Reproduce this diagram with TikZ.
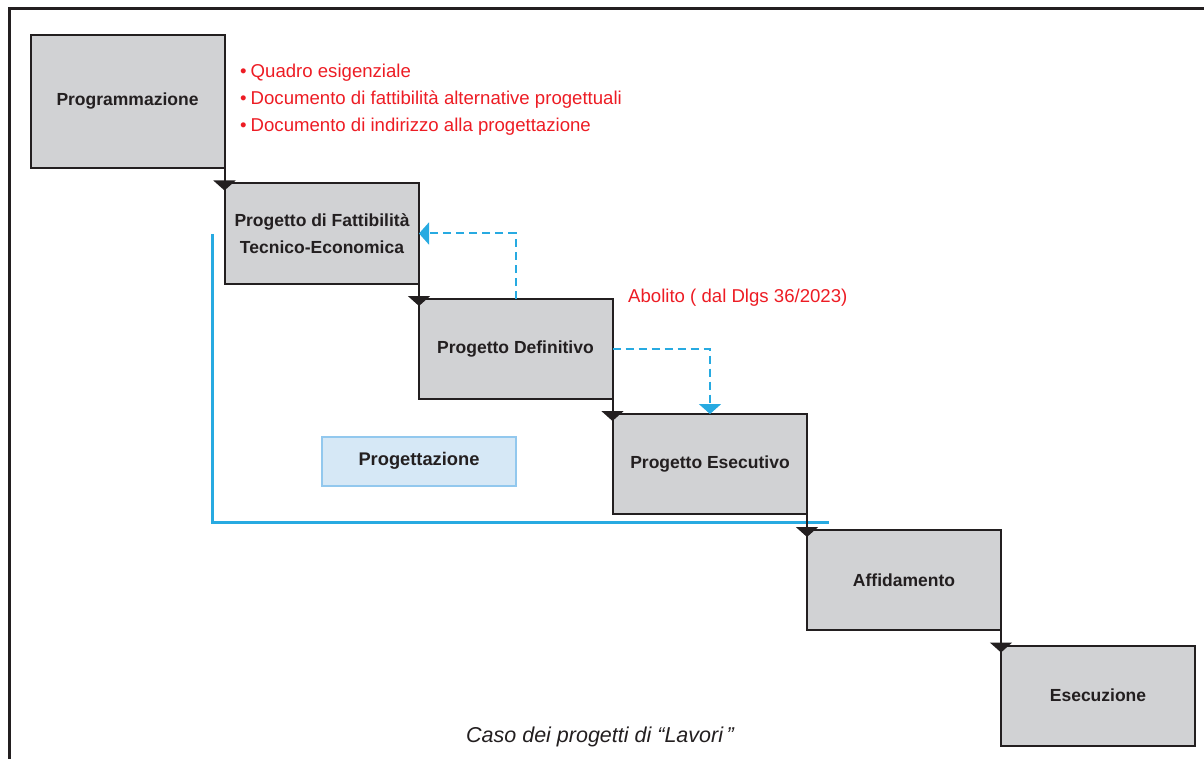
\documentclass[tikz,border=0pt]{standalone}
\usepackage{fontspec}
\setmainfont{Liberation Sans}
\usetikzlibrary{arrows.meta}
\definecolor{boxgray}{RGB}{209,210,212}
\definecolor{boxline}{RGB}{35,31,32}
\definecolor{redtxt}{RGB}{237,28,36}
\definecolor{cyanline}{RGB}{39,170,225}
\definecolor{lightblue}{RGB}{214,232,246}
\definecolor{blueborder}{RGB}{146,200,238}
\begin{document}
\begin{tikzpicture}[x=1pt, y=-1pt,
  phase/.style={draw=boxline, fill=boxgray, line width=2pt, minimum width=194pt, minimum height=100pt,
    inner sep=0pt, outer sep=0pt, align=center, text=boxline, font=\fontsize{17.5}{27}\selectfont\bfseries},
  flow/.style={draw=boxline, line width=2pt, -{Triangle[width=22pt,length=10pt]}, shorten >=-7pt},
  skip/.style={draw=cyanline, line width=2pt, dash pattern=on 8pt off 5pt, -{Triangle[width=22pt,length=10pt]}},
  note/.style={text=redtxt, anchor=west, align=left, inner sep=0pt, font=\fontsize{18.6}{27}\selectfont}]
\useasboundingbox (0,0) rectangle (1204,759);
\draw [boxline, line width=3pt] (9,759) -- (9,9) -- (1204,9);

\node [phase, minimum height=133pt] (prog) at (127.5,101.5) {Programmazione};
\node [phase] (fatt) at (322,233.5) {Progetto di Fattibilit\`a\\Tecnico-Economica};
\node [phase] (def) at (515.5,349) {Progetto Definitivo};
\node [phase] (esec) at (710,464) {Progetto Esecutivo};
\node [phase] (aff) at (904,580) {Affidamento};
\node [phase] (exe) at (1098,695.5) {Esecuzione};

\node [note] (docs) at (240,100) {\textbullet\hspace{4pt}Quadro esigenziale\\
  \textbullet\hspace{4pt}Documento di fattibilit\`a alternative progettuali\\
  \textbullet\hspace{4pt}Documento di indirizzo alla progettazione};
\node [note] (abol) at (628,298) {Abolito ( dal Dlgs 36/2023)};

\draw [cyanline, line width=3pt] (212,234) -- (212,522) -- (829,522);
\node [draw=blueborder, fill=lightblue, line width=2pt, minimum width=194pt, minimum height=49pt,
  text=boxline, font=\fontsize{18.3}{22}\selectfont\bfseries] (progt) at (419,461) {Progettazione};

\draw [flow] (prog.south east) -- (prog.south east |- fatt.north);
\draw [flow] (fatt.south east) -- (fatt.south east |- def.north);
\draw [flow] (def.south east) -- (def.south east |- esec.north);
\draw [flow] (esec.south east) -- (esec.south east |- aff.north);
\draw [flow] (aff.south east) -- (aff.south east |- exe.north);

\draw [skip] (def.north) |- (fatt.east);
\draw [skip] (def.east) -| (esec.north);

\node [text=boxline, font=\fontsize{21.5}{26}\selectfont\itshape] (caption) at (600,737) {Caso dei progetti di “Lavori\,”};
\end{tikzpicture}
\end{document}
